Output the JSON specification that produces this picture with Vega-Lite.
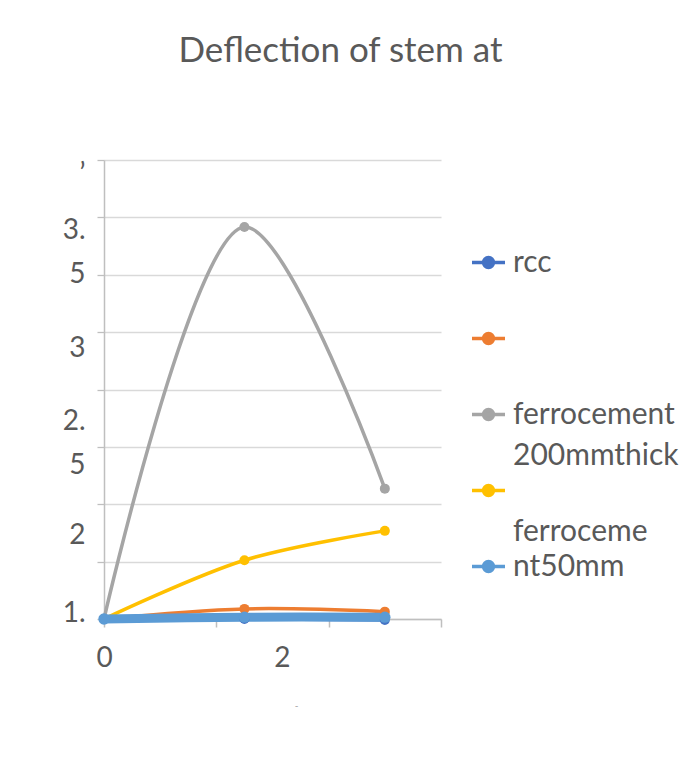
{
  "$schema": "https://vega.github.io/schema/vega-lite/v6.json",
  "width": 337,
  "height": 459,
  "autosize": {"type": "none"},
  "padding": {"left": 104, "top": 160, "right": 245, "bottom": 163},
  "background": "white",
  "config": {"view": {"stroke": null}, "font": "Lato"},
  "title": {
    "text": "Deflection of stem at",
    "fontSize": 35,
    "font": "Lato",
    "fontWeight": "normal",
    "color": "#595959",
    "anchor": "middle",
    "frame": "group",
    "dx": 68,
    "baseline": "alphabetic",
    "offset": 62
  },
  "data": {
    "values": [
      {"series": "rcc", "x": 0, "y": 1.5},
      {"series": "rcc", "x": 1.5, "y": 1.5},
      {"series": "rcc", "x": 3, "y": 1.495},
      {"series": "series2", "x": 0, "y": 1.5},
      {"series": "series2", "x": 1.5, "y": 1.555},
      {"series": "series2", "x": 3, "y": 1.54},
      {"series": "ferrocement 200mmthick", "x": 0, "y": 1.5},
      {"series": "ferrocement 200mmthick", "x": 1.5, "y": 3.635},
      {"series": "ferrocement 200mmthick", "x": 3, "y": 2.21},
      {"series": "ferrocement50mm", "x": 0, "y": 1.5},
      {"series": "ferrocement50mm", "x": 1.5, "y": 1.82},
      {"series": "ferrocement50mm", "x": 3, "y": 1.98},
      {"series": "series5", "x": 0, "y": 1.5},
      {"series": "series5", "x": 1.5, "y": 1.51},
      {"series": "series5", "x": 3, "y": 1.51}
    ]
  },
  "encoding": {
    "x": {
      "field": "x",
      "type": "quantitative",
      "scale": {"domain": [0, 3.6], "nice": false, "zero": false},
      "axis": {
        "values": [0, 1.2, 1.9, 2.4, 3.6],
        "labelExpr": "datum.value == 0 ? '0' : datum.value == 1.9 ? '2' : ''",
        "grid": false,
        "tickSize": 8,
        "tickWidth": 1.5,
        "tickColor": {"condition": {"test": "datum.value == 1.9", "value": "transparent"}, "value": "#BFBFBF"},
        "domainColor": "#BFBFBF",
        "domainWidth": 1.5,
        "labelFont": "Lato",
        "labelFontSize": 28,
        "labelColor": "#595959",
        "labelPadding": 17,
        "labelFlush": false,
        "labelOverlap": false,
        "title": "-",
        "titleFontSize": 10,
        "titleFontWeight": "normal",
        "titleColor": "#A0A0A0",
        "titleX": 192,
        "titlePadding": 28
      }
    },
    "y": {
      "field": "y",
      "type": "quantitative",
      "scale": {"domain": [1.5, 4], "nice": false, "zero": false},
      "axis": {
        "values": [1.5, 1.8125, 2, 2.125, 2.4375, 2.5, 2.75, 3, 3.0625, 3.375, 3.5, 3.6875, 4],
        "labelExpr": "datum.value == 1.5 ? '1.' : datum.value == 2 ? '2' : datum.value == 2.5 ? ['2.', '5'] : datum.value == 3 ? '3' : datum.value == 3.5 ? ['3.', '5'] : datum.value == 4 ? 'ʼ' : ''",
        "labelOffset": {
          "condition": [
            {"test": "datum.value == 2.5", "value": -14},
            {"test": "datum.value == 3.5", "value": -21},
            {"test": "datum.value == 2", "value": 8},
            {"test": "datum.value == 1.5", "value": -6},
            {"test": "datum.value == 3", "value": 5},
            {"test": "datum.value == 4", "value": 14}
          ],
          "value": 0
        },
        "grid": true,
        "gridColor": {"condition": {"test": "datum.value == 2 || datum.value == 2.5 || datum.value == 3 || datum.value == 3.5", "value": "transparent"}, "value": "#D9D9D9"},
        "gridWidth": 1.3,
        "tickColor": {"condition": {"test": "datum.value == 2 || datum.value == 2.5 || datum.value == 3 || datum.value == 3.5", "value": "transparent"}, "value": "#BFBFBF"},
        "tickSize": 7,
        "tickWidth": 1.3,
        "domainColor": "#BFBFBF",
        "domainWidth": 1.5,
        "labelFont": "Lato",
        "labelFontSize": 28,
        "labelColor": "#595959",
        "labelLineHeight": 44,
        "labelPadding": 12,
        "labelFlush": false,
        "labelOverlap": false,
        "title": null
      }
    },
    "color": {
      "field": "series",
      "type": "nominal",
      "scale": {
        "domain": ["rcc", "series2", "ferrocement 200mmthick", "ferrocement50mm", "series5"],
        "range": ["#4472C4", "#ED7D31", "#A5A5A5", "#FFC000", "#5B9BD5"]
      },
      "legend": {
        "orient": "none",
        "legendX": 366,
        "legendY": 84,
        "title": null,
        "padding": 0,
        "symbolType": "M-1,0H1M-0.3,0A0.3,0.3 0 1,1 0.3,0A0.3,0.3 0 1,1 -0.3,0Z",
        "symbolSize": 1089,
        "symbolStrokeWidth": 3.5,
        "labelFont": "Lato",
        "labelFontSize": 30,
        "labelColor": "#595959",
        "labelOffset": 6,
        "labelLimit": 400,
        "labelBaseline": "middle",
        "rowPadding": 1,
        "labelExpr": "datum.value == 'rcc' ? ['rcc', ' '] : datum.value == 'series2' ? [' ', ' '] : datum.value == 'ferrocement 200mmthick' ? [' ferrocement', '200mmthick'] : datum.value == 'ferrocement50mm' ? [' ', 'ferroceme'] : ['nt50mm']",
        "encode": {
          "symbols": {
            "update": {
              "fill": {"scale": "color", "field": "value"},
              "stroke": {"scale": "color", "field": "value"},
              "fillOpacity": {"value": 1},
              "opacity": {"value": 1}
            }
          },
          "labels": {
            "update": {
              "lineHeight": {"value": 41}
            }
          }
        }
      }
    }
  },
  "layer": [
    {
      "mark": {"type": "line", "interpolate": "catmull-rom"},
      "encoding": {
        "strokeWidth": {
          "condition": {"test": "datum.series == 'series5'", "value": 9},
          "value": 3.5
        }
      }
    },
    {
      "mark": {"type": "point", "filled": true, "opacity": 1, "shape": "circle"},
      "encoding": {
        "size": {
          "condition": {"test": "datum.series == 'series5'", "value": 130},
          "value": 100
        }
      }
    }
  ]
}
